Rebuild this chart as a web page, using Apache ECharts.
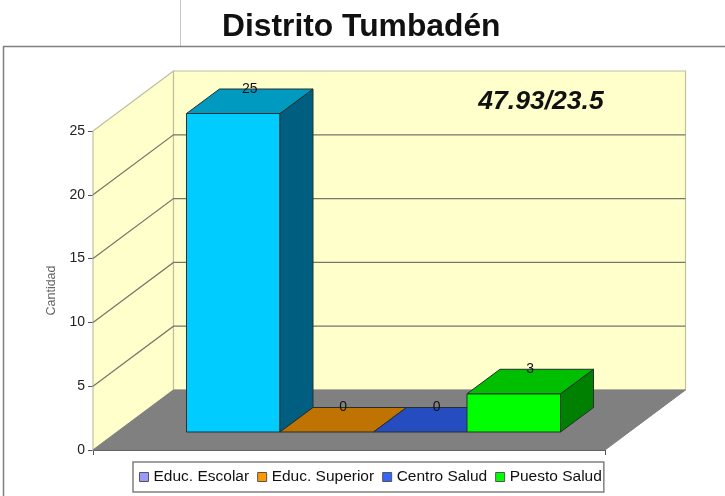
<!DOCTYPE html>
<html><head><meta charset="utf-8">
<style>html,body{margin:0;padding:0;background:#fff}#c{width:725px;height:496px;filter:blur(0.5px)}</style>
<script src="https://cdn.jsdelivr.net/npm/echarts@6/dist/echarts.min.js"></script>
</head><body><div id="c"></div>
<script>
const categories = ['Educ. Escolar', 'Educ. Superior', 'Centro Salud', 'Puesto Salud'];
const values = [25, 0, 0, 3];
const yTicks = [5, 10, 15, 20];
const titleText = 'Distrito Tumbadén';
const noteText = '47.93/23.5';
const yName = 'Cantidad';

const legendColors = ['#9999ff', '#ff9900', '#3366ff', '#00ff00'];
const frontColors = ['#00ccff', '#ff9900', '#3366ff', '#00ff00'];
const topColors = ['#0099bf', '#bf7300', '#264dbf', '#00bf00'];
const sideColors = ['#005f80', '#804d00', '#1a3380', '#008000'];

const FONT = '"Liberation Sans", Arial, sans-serif';
const WALL = {dx: 80.5, dy: -60};
const BAR = {dx: 33, dy: -24.5};

function poly(points, fill, stroke, w) {
  return {type: 'polygon', shape: {points}, style: {fill, stroke, lineWidth: w || 0}};
}
function wallItem(params, api) {
  const a = api.coord([0, 0]), b = api.coord([1, 0]), t = api.coord([0, 25]), t2 = api.coord([1, 25]);
  const s = p => [p[0] + WALL.dx, p[1] + WALL.dy];
  const edge = '#c0c0a0';
  return {type: 'group', children: [
    poly([t, s(t), s(a), a], '#ffffcc', edge, 1.2),
    poly([s(t), s(t2), s(b), s(a)], '#ffffcc', edge, 1.2),
    poly([a, s(a), s(b), b], '#808080', '#808080', 1)
  ]};
}
function gridItem(params, api) {
  const l = api.coord([0, api.value(0)]), r = api.coord([1, api.value(0)]);
  return {type: 'polyline',
    shape: {points: [l, [l[0] + WALL.dx, l[1] + WALL.dy], [r[0] + WALL.dx, r[1] + WALL.dy]]},
    style: {fill: 'none', stroke: '#77776a', lineWidth: 1.2}};
}
function barItem(params, api) {
  const i = api.value(0), v = api.value(1);
  const c = api.coord([i, v]), base = api.coord([i, 0]);
  const w = api.size([1, 0])[0];
  const x0 = c[0] - w / 2, x1 = c[0] + w / 2, yT = c[1], yB = base[1];
  const d = BAR, ec = '#24302f', kids = [];
  if (v > 0) {
    kids.push(poly([[x0, yT], [x1, yT], [x1, yB], [x0, yB]], frontColors[i], ec, 1));
    kids.push(poly([[x1, yT], [x1 + d.dx, yT + d.dy], [x1 + d.dx, yB + d.dy], [x1, yB]], sideColors[i], ec, 1));
  }
  kids.push(poly([[x0, yT], [x1, yT], [x1 + d.dx, yT + d.dy], [x0 + d.dx, yT + d.dy]], topColors[i], ec, 1));
  kids.push({type: 'text', z2: 50, style: {
    x: c[0] + d.dx / 2, y: yT + d.dy, text: String(v), align: 'center', verticalAlign: 'middle',
    font: '14px ' + FONT, fill: '#111'}});
  return {type: 'group', children: kids};
}

const barSeries = categories.map((name, i) => ({
  name, type: 'custom', coordinateSystem: 'cartesian2d', xAxisIndex: 1, yAxisIndex: 1,
  renderItem: barItem, clip: false, z: 5,
  itemStyle: {color: legendColors[i]},
  encode: {x: 0, y: 1},
  data: [[i, values[i]]]
}));

const chart = echarts.init(document.getElementById('c'), null, {renderer: 'canvas'});
chart.setOption({
  animation: false,
  backgroundColor: '#fff',
  title: {text: titleText, left: 222, top: 11, padding: 0,
    textStyle: {fontFamily: FONT, fontWeight: 'bold', fontSize: 31.8, color: '#111'}},
  grid: [
    {left: 93, top: 131, width: 512, height: 319},
    {left: 186.5, top: 113.5, width: 374, height: 318.5}
  ],
  xAxis: [
    {type: 'value', gridIndex: 0, min: 0, max: 1, interval: 1,
      axisLabel: {show: false}, splitLine: {show: false},
      axisLine: {show: true, lineStyle: {color: '#444', width: 1}},
      axisTick: {show: true, length: 5, lineStyle: {color: '#555'}}},
    {type: 'category', gridIndex: 1, data: categories, show: false}
  ],
  yAxis: [
    {type: 'value', gridIndex: 0, min: 0, max: 25, interval: 5,
      name: yName, nameLocation: 'middle', nameGap: 34,
      nameTextStyle: {fontFamily: FONT, fontSize: 12.5, color: '#666'},
      axisLabel: {margin: 8, fontFamily: FONT, fontSize: 14, color: '#222'},
      splitLine: {show: false},
      axisLine: {show: true, lineStyle: {color: '#555', width: 1}},
      axisTick: {show: true, length: 5, lineStyle: {color: '#555'}}},
    {type: 'value', gridIndex: 1, min: 0, max: 25, show: false}
  ],
  legend: {
    left: 133, top: 462, padding: [7, 2, 7, 6], itemGap: 8,
    itemWidth: 9, itemHeight: 9, icon: 'rect',
    borderColor: '#808080', borderWidth: 1.5, backgroundColor: '#fff',
    itemStyle: {borderColor: '#555', borderWidth: 1},
    textStyle: {fontFamily: FONT, fontSize: 15.5, color: '#111'},
    data: categories, selectedMode: false
  },
  graphic: [
    {type: 'line', silent: true, z: -1, shape: {x1: 180.5, y1: 0, x2: 180.5, y2: 46}, style: {stroke: '#c8c8c8', lineWidth: 1}},
    {type: 'polyline', silent: true, z: -1, shape: {points: [[3.5, 496], [3.5, 46.5], [725, 46.5]]}, style: {fill: 'none', stroke: '#808080', lineWidth: 1.5}},
    {type: 'text', z: 20, style: {x: 541, y: 102, text: noteText, align: 'center', verticalAlign: 'middle',
      font: 'italic bold 26.5px ' + FONT, fill: '#111'}}
  ],
  series: [
    {name: 'walls', type: 'custom', coordinateSystem: 'cartesian2d', xAxisIndex: 0, yAxisIndex: 0,
      renderItem: wallItem, clip: false, z: 1, silent: true, data: [[0, 0]], encode: {x: 0, y: 1}},
    {name: 'gridlines', type: 'custom', coordinateSystem: 'cartesian2d', xAxisIndex: 0, yAxisIndex: 0,
      renderItem: gridItem, clip: false, z: 2, silent: true,
      data: yTicks.map(v => [v]), encode: {y: 0}},
    ...barSeries
  ]
});
</script></body></html>
